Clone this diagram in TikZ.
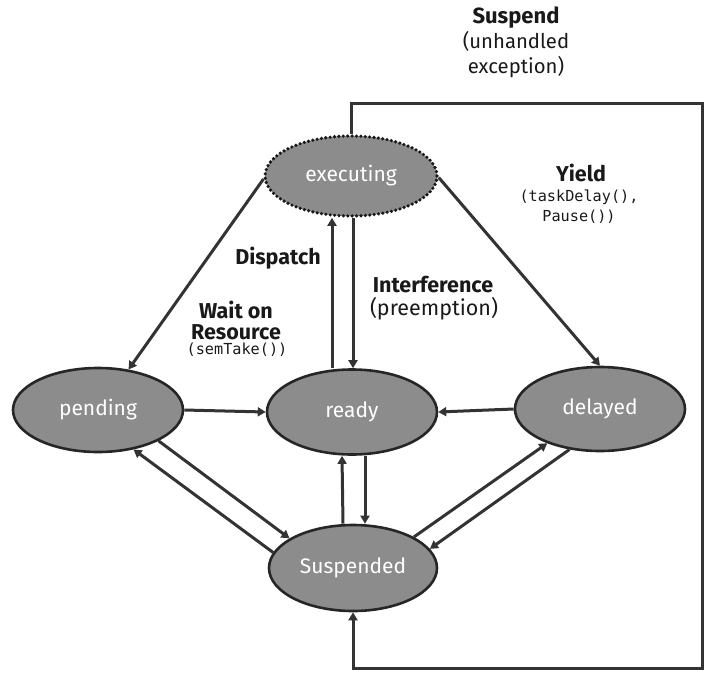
\documentclass[tikz,border=0pt]{standalone}
\usepackage{fontspec}
\setmainfont{Fira Sans}
\setmonofont{DejaVu Sans Mono}
\usetikzlibrary{shapes.geometric,arrows.meta}
\begin{document}
\begin{tikzpicture}[x=1pt,y=-1pt,
  state/.style={ellipse, draw=black!85, line width=2.6pt, fill=black!45,
    text=white, inner sep=0pt, font=\fontsize{21}{23}\selectfont},
  activestate/.style={state, draw=black!90, line width=3.6pt,
    dash pattern=on 0pt off 4.4pt, line cap=round},
  arr/.style={draw=black!80, line width=3pt,
    -{Triangle[length=8pt, width=9pt]}},
  lbl/.style={align=center, inner sep=0pt, text=black!90},
  bfs/.style={font=\bfseries\fontsize{21.5}{21}\selectfont},
  rms/.style={font=\fontsize{21.5}{24}\selectfont},
  code/.style={font=\ttfamily\fontsize{15.2}{20}\selectfont}
]
\useasboundingbox (0,0) rectangle (704,672);

% states
\node[activestate, minimum width=172pt, minimum height=80pt] (exe) at (351,176) {executing};
\node[state, minimum width=170pt, minimum height=84pt] (pend) at (98,410) {pending};
\node[state, minimum width=170pt, minimum height=85pt] (ready) at (352,412) {ready};
\node[state, minimum width=170pt, minimum height=84pt] (del) at (600,409) {delayed};
\node[state, minimum width=168pt, minimum height=86pt] (susp) at (353,568) {Suspended};

% corners of the suspend loop
\coordinate (tr) at (702,103);
\coordinate (br) at (702,668);

% transitions
\draw[arr] (exe.182) -- (pend.53);
\draw[arr] (exe.-1) -- (del.north);
\draw[arr] ([xshift=-20pt]ready.north) -- ([xshift=-19pt]exe.south);
\draw[arr] ([xshift=2pt]exe.south) -- ([xshift=1pt]ready.north);
\draw[arr] (pend.east) -- (ready.west);
\draw[arr] (del.west) -- (ready.east);
\draw[arr] ([xshift=-10pt]susp.north) -- ([xshift=-10pt]ready.south);
\draw[arr] ([xshift=13pt]ready.south) -- ([xshift=12pt]susp.north);
\draw[arr] (pend.-27) -- (susp.155.6);
\draw[arr] (susp.169.5) -- (pend.-48.6);
\draw[arr] (susp.27.3) -- (del.213.2);
\draw[arr] (del.233) -- (susp.14.2);
\draw[arr] (exe.north) |- (tr) -- (br) -| (susp.south);

% labels
\node[lbl, font=\fontsize{20.3}{25}\selectfont] (lsusp) at (516,42)
  {{\bfseries\fontsize{22}{25}\selectfont Suspend}\\(unhandled\\exception)};
\node[lbl, bfs] (lyield) at (581,173) {Yield};
\node[lbl, code] (lyieldc) at (579,207) {(taskDelay(),\\Pause())};
\node[lbl, bfs] (ldisp) at (278,258) {Dispatch};
\node[lbl, bfs] (lint) at (433,285) {Interference};
\node[lbl, rms] (lpre) at (434,309) {(preemption)};
\node[lbl, bfs] (lwait) at (236,320) {Wait on\\Resource};
\node[lbl, code] (lwaitc) at (237,350) {(semTake())};
\end{tikzpicture}
\end{document}
